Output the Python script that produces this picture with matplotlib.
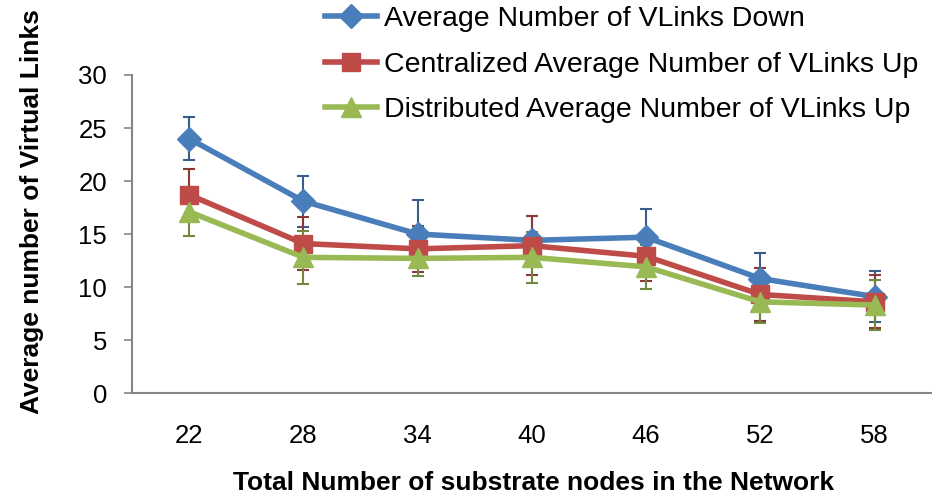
import matplotlib
matplotlib.use("Agg")
import matplotlib.pyplot as plt
import numpy as np

plt.rcParams["font.family"] = ["Liberation Sans", "DejaVu Sans"]

# data
nodes = ["22", "28", "34", "40", "46", "52", "58"]
down = [24.0, 18.1, 15.0, 14.4, 14.7, 10.8, 9.1]
down_err = [2.0, 2.4, 3.2, 2.3, 2.7, 2.4, 2.4]
central_up = [18.7, 14.1, 13.6, 13.9, 12.9, 9.3, 8.6]
central_err = [2.4, 2.5, 2.2, 2.8, 2.3, 2.5, 2.5]
distrib_up = [17.1, 12.8, 12.7, 12.8, 11.9, 8.6, 8.3]
distrib_err = [2.3, 2.5, 1.7, 2.4, 2.1, 2.0, 2.4]

fig = plt.figure(figsize=(9.32, 4.98), dpi=100)
ax = fig.add_axes([0.1416, 0.2108, 0.858, 0.6386])

x = np.arange(len(nodes))
series = [
    (down, down_err, "Average Number of VLinks Down", "#4A7EBB", "#385D8A", "D", 12),
    (central_up, central_err, "Centralized Average Number of VLinks Up", "#BE4B48", "#8C3836", "s", 13.5),
    (distrib_up, distrib_err, "Distributed Average Number of VLinks Up", "#98B954", "#71893F", "^", 14),
]
handles = []
for vals, err, label, col, ecol, mk, ms in series:
    ax.errorbar(x, vals, yerr=err, fmt="none", ecolor=ecol, elinewidth=1.5,
                capsize=4.5, capthick=1.5, zorder=2)
    h, = ax.plot(x, vals, color=col, lw=4, marker=mk, markersize=ms,
                 label=label, zorder=3)
    handles.append(h)

ax.set_xlim(-0.5, len(nodes) - 0.5)
ax.set_ylim(0, 30)
ax.set_yticks(range(0, 31, 5))
ax.set_xticks(x)
ax.set_xticklabels(nodes)
ax.tick_params(axis="both", labelsize=18.5, colors="black")
ax.tick_params(axis="x", length=0, pad=22)
ax.tick_params(axis="y", length=6, width=1.2, color="#868686", pad=12)

for s in ["top", "right"]:
    ax.spines[s].set_visible(False)
for s in ["left", "bottom"]:
    ax.spines[s].set_color("#868686")
    ax.spines[s].set_linewidth(1.5)

fig.text(0.572, 0.03, "Total Number of substrate nodes in the Network",
         ha="center", va="center", fontsize=19, fontweight="bold")
fig.text(0.034, 0.575, "Average number of Virtual Links", rotation=90,
         ha="center", va="center", fontsize=19, fontweight="bold")

fig.legend(handles=handles, loc="upper left", bbox_to_anchor=(0.337, 1.01),
           frameon=False, fontsize=20.5, handlelength=1.8, handletextpad=0.25,
           labelspacing=0.68, borderaxespad=0)

fig.savefig("out.png", dpi=100)
